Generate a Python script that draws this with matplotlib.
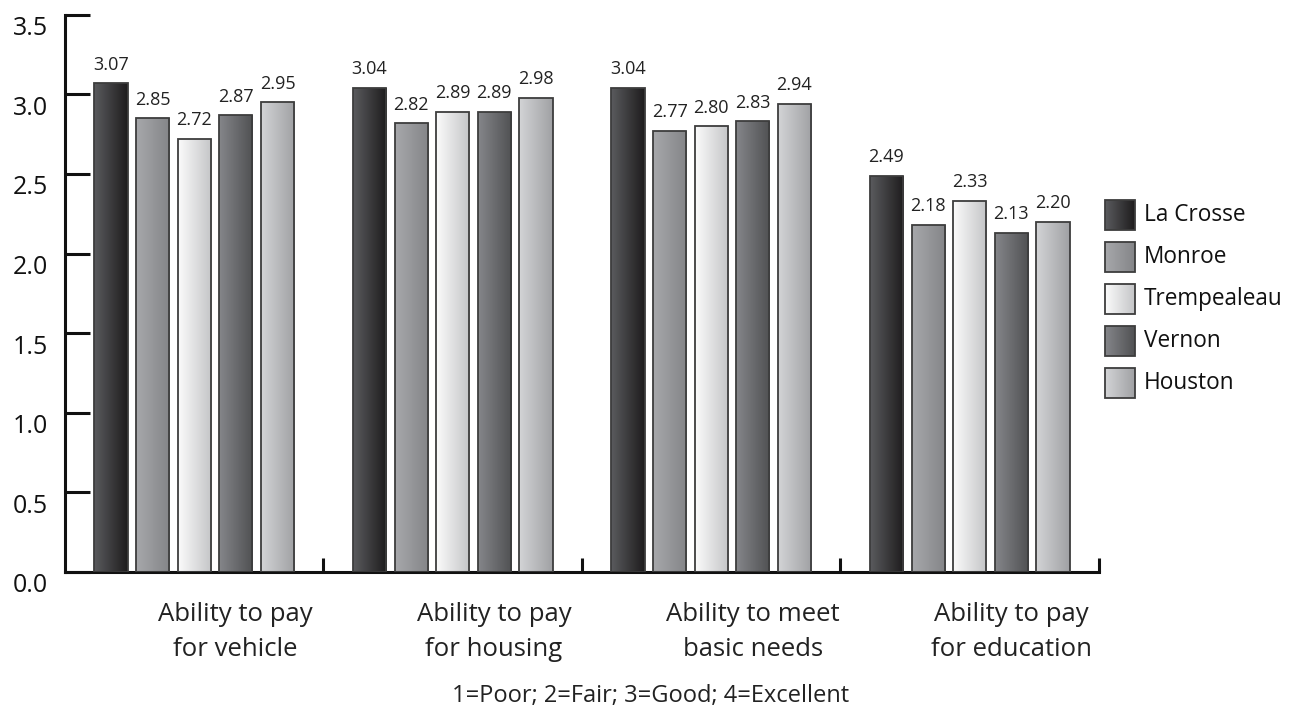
import numpy as np
import matplotlib.pyplot as plt
import matplotlib.transforms as mtransforms
from matplotlib.patches import Rectangle

plt.rcParams['font.family'] = ['Open Sans', 'DejaVu Sans']

categories = ["Ability to pay\nfor vehicle", "Ability to pay\nfor housing",
              "Ability to meet\nbasic needs", "Ability to pay\nfor education"]
counties = ["La Crosse", "Monroe", "Trempealeau", "Vernon", "Houston"]
la_crosse = [3.07, 3.04, 3.04, 2.49]
monroe = [2.85, 2.82, 2.77, 2.18]
trempealeau = [2.72, 2.89, 2.80, 2.33]
vernon = [2.87, 2.89, 2.83, 2.13]
houston = [2.95, 2.98, 2.94, 2.20]
series = [la_crosse, monroe, trempealeau, vernon, houston]
footnote = "1=Poor; 2=Fair; 3=Good; 4=Excellent"

# gradient (left colour, right colour) per county
grads = [("#5a5b5e", "#1e1c1d"),
         ("#a7a8ab", "#848588"),
         ("#fbfbfb", "#c4c5c7"),
         ("#85868a", "#505153"),
         ("#d3d4d6", "#a0a1a4")]


def hex2rgb(h):
    return np.array([int(h[i:i + 2], 16) / 255 for i in (1, 3, 5)])


def grad_img(c1, c2, n=64):
    a, b = hex2rgb(c1), hex2rgb(c2)
    t = np.linspace(0, 1, n)[:, None]
    return (a * (1 - t) + b * t)[None, :, :]


fig = plt.figure(figsize=(12.92, 7.06), dpi=100)
ax = fig.add_axes([0.0503, 0.19, 0.8003, 0.789])

pitch = 0.161
width = 0.128
x = np.arange(len(categories)) + 0.5
for i, vals in enumerate(series):
    pos = x + (i - 2) * pitch
    bars = ax.bar(pos, vals, width, color="none", edgecolor="#3d3d3d", lw=1.3, zorder=3)
    for b, v in zip(bars, vals):
        x0, w, h = b.get_x(), b.get_width(), b.get_height()
        im = ax.imshow(grad_img(*grads[i]), extent=[x0, x0 + w, 0, h],
                       aspect="auto", zorder=2, interpolation="bilinear")
        im.set_clip_path(b)
        ax.text(x0 + w / 2, h + 0.06, f"{v:.2f}", ha="center", va="bottom",
                fontsize=13, color="#222222")

ax.set_xlim(0, 4)
ax.set_ylim(0, 3.5)
ax.set_yticks(np.arange(0, 3.51, 0.5))
ax.set_yticklabels([f"{v:.1f}" for v in np.arange(0, 3.51, 0.5)], fontsize=18)
ax.set_xticks([1, 2, 3, 4])
ax.set_xticklabels([])
ax.tick_params(axis="y", direction="in", length=18, width=2.2, pad=12, colors="#111111")
ax.tick_params(axis="x", direction="in", length=10, width=2.2, colors="#111111")
for s in ["top", "right"]:
    ax.spines[s].set_visible(False)
for s in ["left", "bottom"]:
    ax.spines[s].set_linewidth(2.2)
    ax.spines[s].set_color("#111111")

off = mtransforms.ScaledTranslation(0, -11 / 100, fig.dpi_scale_trans)
for lab in ax.get_yticklabels():
    lab.set_transform(lab.get_transform() + off)

for xi, c in zip(x, categories):
    ax.text(xi + 0.16, -0.19, c, ha="center", va="top", fontsize=18.5,
            color="#222222", linespacing=1.5)

# overlay axes in pixel coords for legend and footnote
ov = fig.add_axes([0, 0, 1, 1], facecolor="none")
ov.axis("off")
for i, name in enumerate(counties):
    y0 = 200 + 42 * i
    sq = Rectangle((1105, y0), 30, 30, facecolor="none", edgecolor="#3d3d3d", lw=1.3, zorder=3)
    ov.add_patch(sq)
    im = ov.imshow(grad_img(*grads[i]), extent=[1105, 1135, y0 + 30, y0],
                   aspect="auto", zorder=2, interpolation="bilinear")
    im.set_clip_path(sq)
    ov.text(1144, y0 + 15, name, ha="left", va="center", fontsize=16.3, color="#111111")
ov.set_xlim(0, 1292)
ov.set_ylim(706, 0)

ov.text(651, 702, footnote, ha="center", va="baseline", fontsize=17, color="#222222")

fig.savefig("out.png", dpi=100)
